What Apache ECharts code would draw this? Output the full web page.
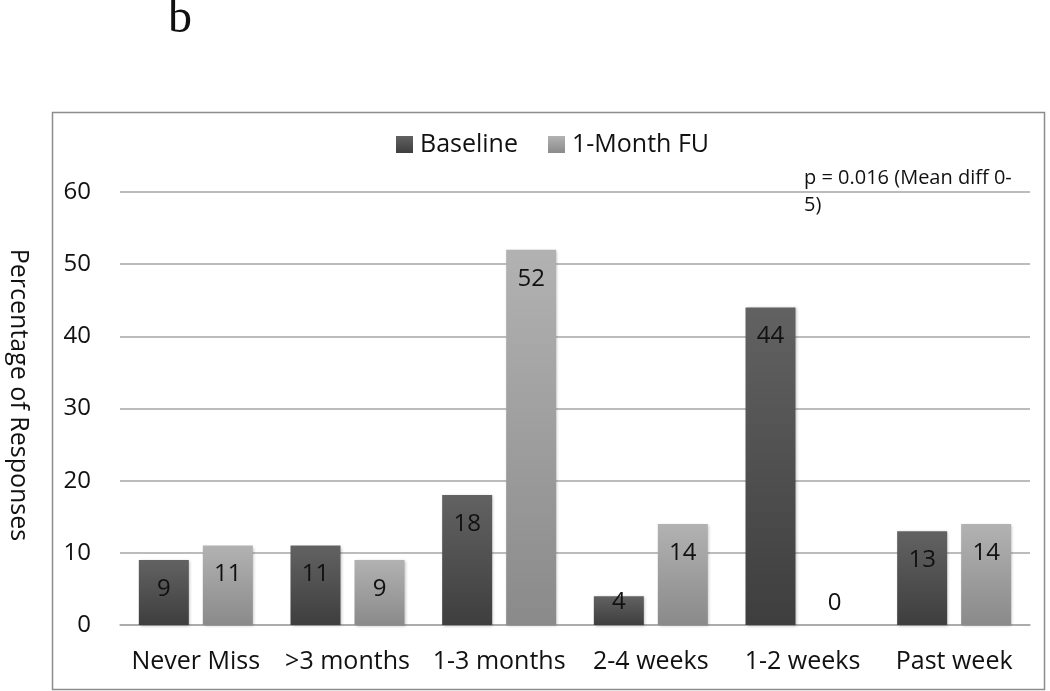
<!DOCTYPE html>
<html><head><meta charset="utf-8">
<script src="https://cdn.jsdelivr.net/npm/echarts@6/dist/echarts.min.js"></script>
<style>html,body{margin:0;padding:0;background:#fff}#c{width:1050px;height:691px}</style>
</head><body><div id="c"></div>
<script>
const categories = ['Never Miss', '>3 months', '1-3 months', '2-4 weeks', '1-2 weeks', 'Past week'];
const baseline = [9, 11, 18, 4, 44, 13];
const followUp = [11, 9, 52, 14, 0, 14];
const seriesNames = ['Baseline', '1-Month FU'];
const yTicks = { min: 0, max: 60, interval: 10 };
const annotation = 'p = 0.016 (Mean diff 0-\n5)';
const panelLabel = 'b';
const yTitle = 'Percentage of Responses';

const FONT = '"Open Sans", sans-serif';
const grad = (top, bottom) => new echarts.graphic.LinearGradient(0, 0, 0, 1, [
  { offset: 0, color: top }, { offset: 1, color: bottom }]);
const darkFill = grad('#626262', '#3e3e3e');
const lightFill = grad('#b2b2b2', '#8a8a8a');

// label placement tweaks: zero bars get the label above the baseline,
// very short bars get it pushed up to the bar's top edge
const withLabelTweaks = arr => arr.map(v => {
  if (v === 0) return { value: v, label: { position: 'top', distance: 10 } };
  if (v < 6) return { value: v, label: { position: 'insideTop', distance: -6 } };
  return v;
});

const chart = echarts.init(document.getElementById('c'), null, { renderer: 'canvas' });
const label = {
  show: true, position: 'insideTop', distance: 17,
  color: '#111', fontSize: 24, fontFamily: FONT
};
const shadow = { shadowColor: 'rgba(0,0,0,0.25)', shadowBlur: 3, shadowOffsetX: 1, shadowOffsetY: 1 };
chart.setOption({
  animation: false,
  backgroundColor: '#fff',
  grid: { left: 120, right: 20, top: 192, bottom: 66, containLabel: false, outerBoundsMode: 'none' },
  legend: {
    top: 127, left: 391, itemWidth: 17, itemHeight: 17, itemGap: 30,
    icon: 'rect',
    textStyle: { fontSize: 25, color: '#111', fontFamily: FONT, padding: [0, 0, 0, 2] },
    data: seriesNames
  },
  xAxis: {
    type: 'category', data: categories,
    axisLine: { show: true, lineStyle: { color: '#a6a6a6', width: 1.5 } },
    axisTick: { show: false },
    axisLabel: { fontSize: 25, color: '#111', fontFamily: FONT, margin: 24, interval: 0 }
  },
  yAxis: {
    type: 'value', min: yTicks.min, max: yTicks.max, interval: yTicks.interval,
    axisLine: { show: false }, axisTick: { show: false },
    axisLabel: { fontSize: 24, color: '#111', fontFamily: FONT, margin: 29 },
    splitLine: { lineStyle: { color: '#a6a6a6', width: 1.5 } }
  },
  series: [
    {
      name: seriesNames[0], type: 'bar', data: withLabelTweaks(baseline), barWidth: 50, barGap: '28%',
      itemStyle: Object.assign({ color: darkFill }, shadow), label
    },
    {
      name: seriesNames[1], type: 'bar', data: withLabelTweaks(followUp), barWidth: 50,
      itemStyle: Object.assign({ color: lightFill }, shadow), label
    }
  ],
  graphic: [
    { type: 'rect', shape: { x: 52.5, y: 112.5, width: 992, height: 577 }, style: { fill: null, stroke: '#8c8c8c', lineWidth: 1.5 }, z: -1 },
    { type: 'text', left: 168, top: -5, style: { text: panelLabel, font: '48px "Liberation Serif", serif', fill: '#111' } },
    { type: 'text', left: 804, top: 165, style: { text: annotation, font: '20px ' + FONT, fill: '#111', lineHeight: 27 } },
    { type: 'text', x: 18, y: 395, rotation: -Math.PI / 2,
      style: { text: yTitle, font: '25px ' + FONT, fill: '#111', align: 'center', verticalAlign: 'middle' } }
  ]
});
</script></body></html>
